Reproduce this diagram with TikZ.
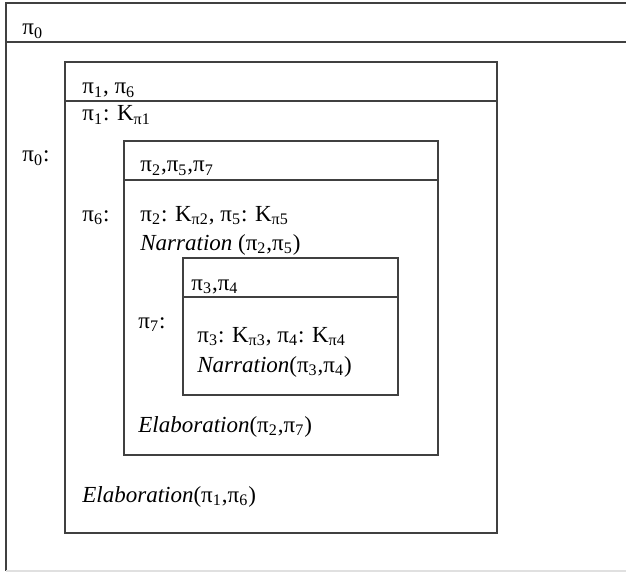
\documentclass[tikz,border=0pt]{standalone}
\usepackage{fontspec}
\setmainfont{Liberation Serif}
\newcommand{\pis}[1]{π\textsubscript{#1}}
\newcommand{\kpi}[1]{K\textsubscript{π#1}}
\tikzset{
    lbl/.style={anchor=base west, inner sep=0pt, font=\fontsize{11.5}{13}\selectfont},
    boxline/.style={black!75, line width=0.6pt}
}

\begin{document}
\begin{tikzpicture}[x=0.5pt,y=-0.5pt]
    \useasboundingbox (0,0) rectangle (626,572);

    % Outer box (pi_0), open to the right
    \draw[boxline] (626,3) -- (6,3) -- (6,571);
    \draw[boxline] (6,42) -- (626,42);
    \draw[black!12, line width=0.6pt] (6,571) -- (626,571);
    \node[lbl] (hzero) at (22,35) {\pis{0}};
    \node[lbl] (lzero) at (22,162) {\pis{0}:};

    % Box of pi_1, pi_6
    \draw[boxline] (65,62) rectangle (497,533);
    \draw[boxline] (65,101) -- (497,101);
    \node[lbl] (hone) at (82,94) {\pis{1}, \pis{6}};
    \node[lbl] (kone) at (82,121) {\pis{1}: \kpi{1}};
    \node[lbl] (lsix) at (82,221) {\pis{6}:};
    \node[lbl] (elabone) at (82,502) {\textit{Elaboration}(\pis{1},\pis{6})};

    % Box of pi_2, pi_5, pi_7
    \draw[boxline] (124,141) rectangle (438,455);
    \draw[boxline] (124,180) -- (438,180);
    \node[lbl] (htwo) at (140,172) {\pis{2},\pis{5},\pis{7}};
    \node[lbl] (ktwo) at (140,221) {\pis{2}: \kpi{2}, \pis{5}: \kpi{5}};
    \node[lbl] (nartwo) at (140,250) {\textit{Narration} (\pis{2},\pis{5})};
    \node[lbl] (lseven) at (138,328) {\pis{7}:};
    \node[lbl] (elabtwo) at (138,432) {\textit{Elaboration}(\pis{2},\pis{7})};

    % Box of pi_3, pi_4
    \draw[boxline] (183,258) rectangle (398,395);
    \draw[boxline] (183,297) -- (398,297);
    \node[lbl] (hthree) at (191,290) {\pis{3},\pis{4}};
    \node[lbl] (kthree) at (197,342) {\pis{3}: \kpi{3}, \pis{4}: \kpi{4}};
    \node[lbl] (narthree) at (197,372) {\textit{Narration}(\pis{3},\pis{4})};
\end{tikzpicture}
\end{document}
